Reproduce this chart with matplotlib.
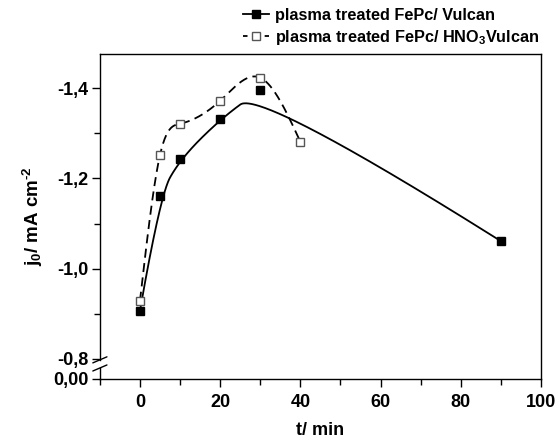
import numpy as np
import matplotlib.pyplot as plt
from matplotlib.lines import Line2D

plt.rcParams['font.family'] = ['Liberation Sans', 'DejaVu Sans']
plt.rcParams['font.weight'] = 'bold'
plt.rcParams['mathtext.fontset'] = 'custom'
plt.rcParams['mathtext.rm'] = 'Liberation Sans:bold'
plt.rcParams['mathtext.bf'] = 'Liberation Sans:bold'
plt.rcParams['mathtext.default'] = 'bf'

# data
t_vulcan = [0, 5, 10, 20, 30, 90]
j_vulcan = [-0.907, -1.162, -1.242, -1.331, -1.396, -1.061]
t_hno3 = [0, 5, 10, 20, 30, 40]
j_hno3 = [-0.929, -1.252, -1.321, -1.372, -1.423, -1.281]

x_ticks = [0, 20, 40, 60, 80, 100]
y_ticks = [-1.4, -1.2, -1.0, -0.8]
y_ticklabels = ["-1,4", "-1,2", "-1,0", "-0,8"]
y_zero = -0.7556   # where "0,00" sits below the axis break


def natural_spline(x, y, n=300):
    x = np.asarray(x, float)
    y = np.asarray(y, float)
    h = np.diff(x)
    m = len(x)
    A = np.zeros((m, m))
    b = np.zeros(m)
    A[0, 0] = A[-1, -1] = 1
    for i in range(1, m - 1):
        A[i, i - 1] = h[i - 1]
        A[i, i] = 2 * (h[i - 1] + h[i])
        A[i, i + 1] = h[i]
        b[i] = 6 * ((y[i + 1] - y[i]) / h[i] - (y[i] - y[i - 1]) / h[i - 1])
    M = np.linalg.solve(A, b)
    xs = np.linspace(x[0], x[-1], n)
    k = np.clip(np.searchsorted(x, xs) - 1, 0, m - 2)
    dx1 = xs - x[k]
    dx2 = x[k + 1] - xs
    hk = h[k]
    ys = (M[k] * dx2**3 + M[k + 1] * dx1**3) / (6 * hk) \
        + (y[k] / hk - M[k] * hk / 6) * dx2 + (y[k + 1] / hk - M[k + 1] * hk / 6) * dx1
    return xs, ys


def bspline(x, y, n=400, deg=2):
    # clamped B-spline with the data points as control points
    P = np.column_stack([x, y]).astype(float)
    m = len(P)
    inner = np.linspace(0, 1, m - deg + 1)
    knots = np.concatenate([[0] * deg, inner, [1] * deg])
    u = np.linspace(0, 1, n)
    u[-1] -= 1e-10
    N = np.zeros((n, len(knots) - 1))
    for i in range(len(knots) - 1):
        N[:, i] = (u >= knots[i]) & (u < knots[i + 1])
    for d in range(1, deg + 1):
        Nn = np.zeros((n, len(knots) - 1 - d))
        for i in range(len(knots) - 1 - d):
            a = knots[i + d] - knots[i]
            c = knots[i + d + 1] - knots[i + 1]
            t1 = (u - knots[i]) / a * N[:, i] if a > 0 else 0
            t2 = (knots[i + d + 1] - u) / c * N[:, i + 1] if c > 0 else 0
            Nn[:, i] = t1 + t2
        N = Nn
    C = N @ P
    return C[:, 0], C[:, 1]


fig = plt.figure(figsize=(5.58, 4.41), dpi=100)
ax = fig.add_axes([0.179, 0.1406, 0.7905, 0.737])

xs, ys = bspline(t_vulcan, j_vulcan)
ax.plot(xs, ys, color='black', lw=1.3)
xs2, ys2 = natural_spline(t_hno3, j_hno3)
ax.plot(xs2, ys2, color='black', lw=1.3, ls=(0, (5, 3)))
ax.plot(t_vulcan, j_vulcan, 's', color='black', ms=5.5, mew=1, ls='none')
ax.plot(t_hno3, j_hno3, 's', mfc='white', mec='#555555', mew=1, ms=5.5, ls='none')

ax.set_xlim(-10, 100)
ax.set_ylim(y_zero, -1.4756)
ax.set_xticks(x_ticks)
ax.set_xticks(np.arange(-10, 100, 20), minor=True)
ax.set_yticks(y_ticks + [y_zero])
ax.set_yticklabels(y_ticklabels + ["0,00"])
ax.set_yticks([-1.3, -1.1, -0.9], minor=True)
ax.tick_params(which='major', length=6, width=1, labelsize=13, direction='out')
ax.tick_params(which='minor', length=4, width=1, direction='out')
ax.tick_params(axis='y', pad=2)
ax.tick_params(axis='x', pad=5)
for s in ax.spines.values():
    s.set_linewidth(1)

# axis break on the left spine
ax.spines['left'].set_bounds(-0.798, -1.4756)
tr = ax.get_yaxis_transform()
ax.plot([0, 0], [-0.780, y_zero], color='black', lw=1, transform=tr, clip_on=False)
for yb in [-0.798, -0.780]:
    ax.annotate('', xy=(0.016, yb - 0.0067), xycoords=tr,
                xytext=(-0.016, yb + 0.0067), textcoords=tr,
                arrowprops=dict(arrowstyle='-', lw=1, color='black',
                                shrinkA=0, shrinkB=0))

ax.set_xlabel("t/ min", fontsize=13, fontweight='bold', labelpad=8)
ax.set_ylabel(r"j$_0$/ mA cm$^{\text{-2}}$", fontsize=13.5, fontweight='bold', labelpad=6)

handles = [
    Line2D([], [], color='black', lw=1.3, marker='s', ms=5.5, mfc='black', mec='black'),
    Line2D([], [], color='black', lw=1.3, ls=(0, (2.5, 3.5)), marker='s', ms=5.5,
           mfc='white', mec='#555555', mew=1),
]
labels = ["plasma treated FePc/ Vulcan", "plasma treated FePc/ HNO$_3$Vulcan"]
fig.legend(handles, labels, loc='upper left', bbox_to_anchor=(0.409, 1.015), frameon=False,
           handlelength=1.6, handletextpad=0.4, labelspacing=0.3,
           prop={'weight': 'bold', 'size': 11.7})

fig.savefig("out.png", dpi=100)
